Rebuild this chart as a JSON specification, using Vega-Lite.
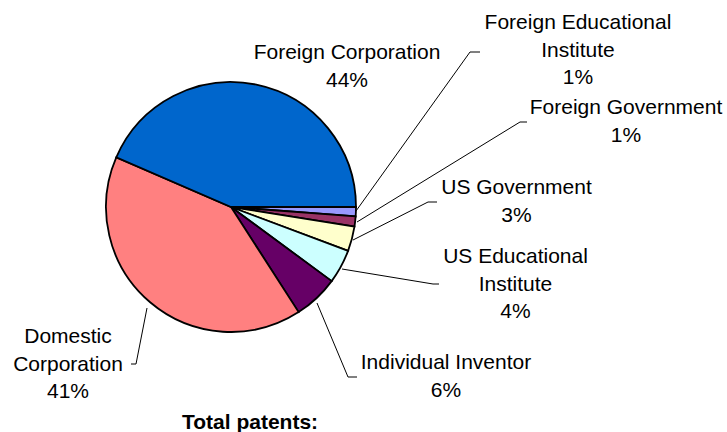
{
  "$schema": "https://vega.github.io/schema/vega-lite/v6.json",
  "width": 727,
  "height": 432,
  "autosize": "none",
  "padding": 0,
  "background": "white",
  "config": {"view": {"stroke": null}},
  "datasets": {
    "pie": [
      {"category": "Foreign Educational Institute", "share": 1.2, "order": 1},
      {"category": "Foreign Government", "share": 1.3, "order": 2},
      {"category": "US Government", "share": 3.2, "order": 3},
      {"category": "US Educational Institute", "share": 4.4, "order": 4},
      {"category": "Individual Inventor", "share": 5.8, "order": 5},
      {"category": "Domestic Corporation", "share": 40.6, "order": 6},
      {"category": "Foreign Corporation", "share": 43.5, "order": 7}
    ],
    "labels": [
      {"text": "Foreign Corporation\n44%", "u": 0.928, "v": 1.232},
      {"text": "Foreign Educational\nInstitute\n1%", "u": 2.776, "v": 1.472},
      {"text": "Foreign Government\n1%", "u": 3.16, "v": 0.792},
      {"text": "US Government\n3%", "u": 2.284, "v": 0.152},
      {"text": "US Educational\nInstitute\n4%", "u": 2.276, "v": -0.4},
      {"text": "Individual Inventor\n6%", "u": 1.72, "v": -1.248},
      {"text": "Domestic\nCorporation\n41%", "u": -1.304, "v": -1.04}
    ],
    "leaders": [
      {"id": "FE", "seq": 1, "u": 1.0, "v": -0.032},
      {"id": "FE", "seq": 2, "u": 1.912, "v": 1.24},
      {"id": "FE", "seq": 3, "u": 1.992, "v": 1.24},
      {"id": "FG", "seq": 1, "u": 1.008, "v": -0.12},
      {"id": "FG", "seq": 2, "u": 2.312, "v": 0.68},
      {"id": "FG", "seq": 3, "u": 2.368, "v": 0.68},
      {"id": "USG", "seq": 1, "u": 0.976, "v": -0.264},
      {"id": "USG", "seq": 2, "u": 1.576, "v": 0.04},
      {"id": "USG", "seq": 3, "u": 1.648, "v": 0.04},
      {"id": "USE", "seq": 1, "u": 0.888, "v": -0.496},
      {"id": "USE", "seq": 2, "u": 1.616, "v": -0.616},
      {"id": "USE", "seq": 3, "u": 1.664, "v": -0.616},
      {"id": "II", "seq": 1, "u": 0.688, "v": -0.768},
      {"id": "II", "seq": 2, "u": 0.936, "v": -1.36},
      {"id": "II", "seq": 3, "u": 1.008, "v": -1.36},
      {"id": "DC", "seq": 1, "u": -0.672, "v": -0.808},
      {"id": "DC", "seq": 2, "u": -0.76, "v": -1.256},
      {"id": "DC", "seq": 3, "u": -0.8, "v": -1.256}
    ],
    "title": [
      {"text": "Total patents:", "u": 0.152, "v": -1.73}
    ]
  },
  "layer": [
    {
      "data": {"name": "pie"},
      "mark": {"type": "arc", "outerRadius": 125, "stroke": "black", "strokeWidth": 1.8},
      "encoding": {
        "x": {"datum": 0, "type": "quantitative", "scale": {"domain": [-1.848, 3.968], "nice": false, "zero": false}, "axis": null},
        "y": {"datum": 0, "type": "quantitative", "scale": {"domain": [-1.8, 1.656], "nice": false, "zero": false}, "axis": null},
        "theta": {"field": "share", "type": "quantitative", "stack": true, "scale": {"range": [1.5707963, 7.8539816]}},
        "order": {"field": "order", "type": "quantitative"},
        "color": {
          "field": "category",
          "type": "nominal",
          "legend": null,
          "scale": {
            "domain": ["Foreign Educational Institute", "Foreign Government", "US Government", "US Educational Institute", "Individual Inventor", "Domestic Corporation", "Foreign Corporation"],
            "range": ["#9999FF", "#993366", "#FFFFCC", "#CCFFFF", "#660066", "#FF8080", "#0066CC"]
          }
        }
      }
    },
    {
      "data": {"name": "leaders"},
      "mark": {"type": "line", "stroke": "black", "strokeWidth": 1},
      "encoding": {
        "x": {"field": "u", "type": "quantitative", "scale": {"domain": [-1.848, 3.968], "nice": false, "zero": false}, "axis": null},
        "y": {"field": "v", "type": "quantitative", "scale": {"domain": [-1.8, 1.656], "nice": false, "zero": false}, "axis": null},
        "detail": {"field": "id"},
        "order": {"field": "seq", "type": "quantitative"}
      }
    },
    {
      "data": {"name": "labels"},
      "mark": {"type": "text", "font": "Liberation Sans", "fontSize": 21, "lineBreak": "\n", "lineHeight": 27.5, "align": "center", "baseline": "middle", "color": "black"},
      "encoding": {
        "x": {"field": "u", "type": "quantitative", "scale": {"domain": [-1.848, 3.968], "nice": false, "zero": false}, "axis": null},
        "y": {"field": "v", "type": "quantitative", "scale": {"domain": [-1.8, 1.656], "nice": false, "zero": false}, "axis": null},
        "text": {"field": "text"}
      }
    },
    {
      "data": {"name": "title"},
      "mark": {"type": "text", "font": "Liberation Sans", "fontSize": 21, "fontWeight": "bold", "align": "center", "baseline": "middle", "color": "black"},
      "encoding": {
        "x": {"field": "u", "type": "quantitative", "scale": {"domain": [-1.848, 3.968], "nice": false, "zero": false}, "axis": null},
        "y": {"field": "v", "type": "quantitative", "scale": {"domain": [-1.8, 1.656], "nice": false, "zero": false}, "axis": null},
        "text": {"field": "text"}
      }
    }
  ]
}
